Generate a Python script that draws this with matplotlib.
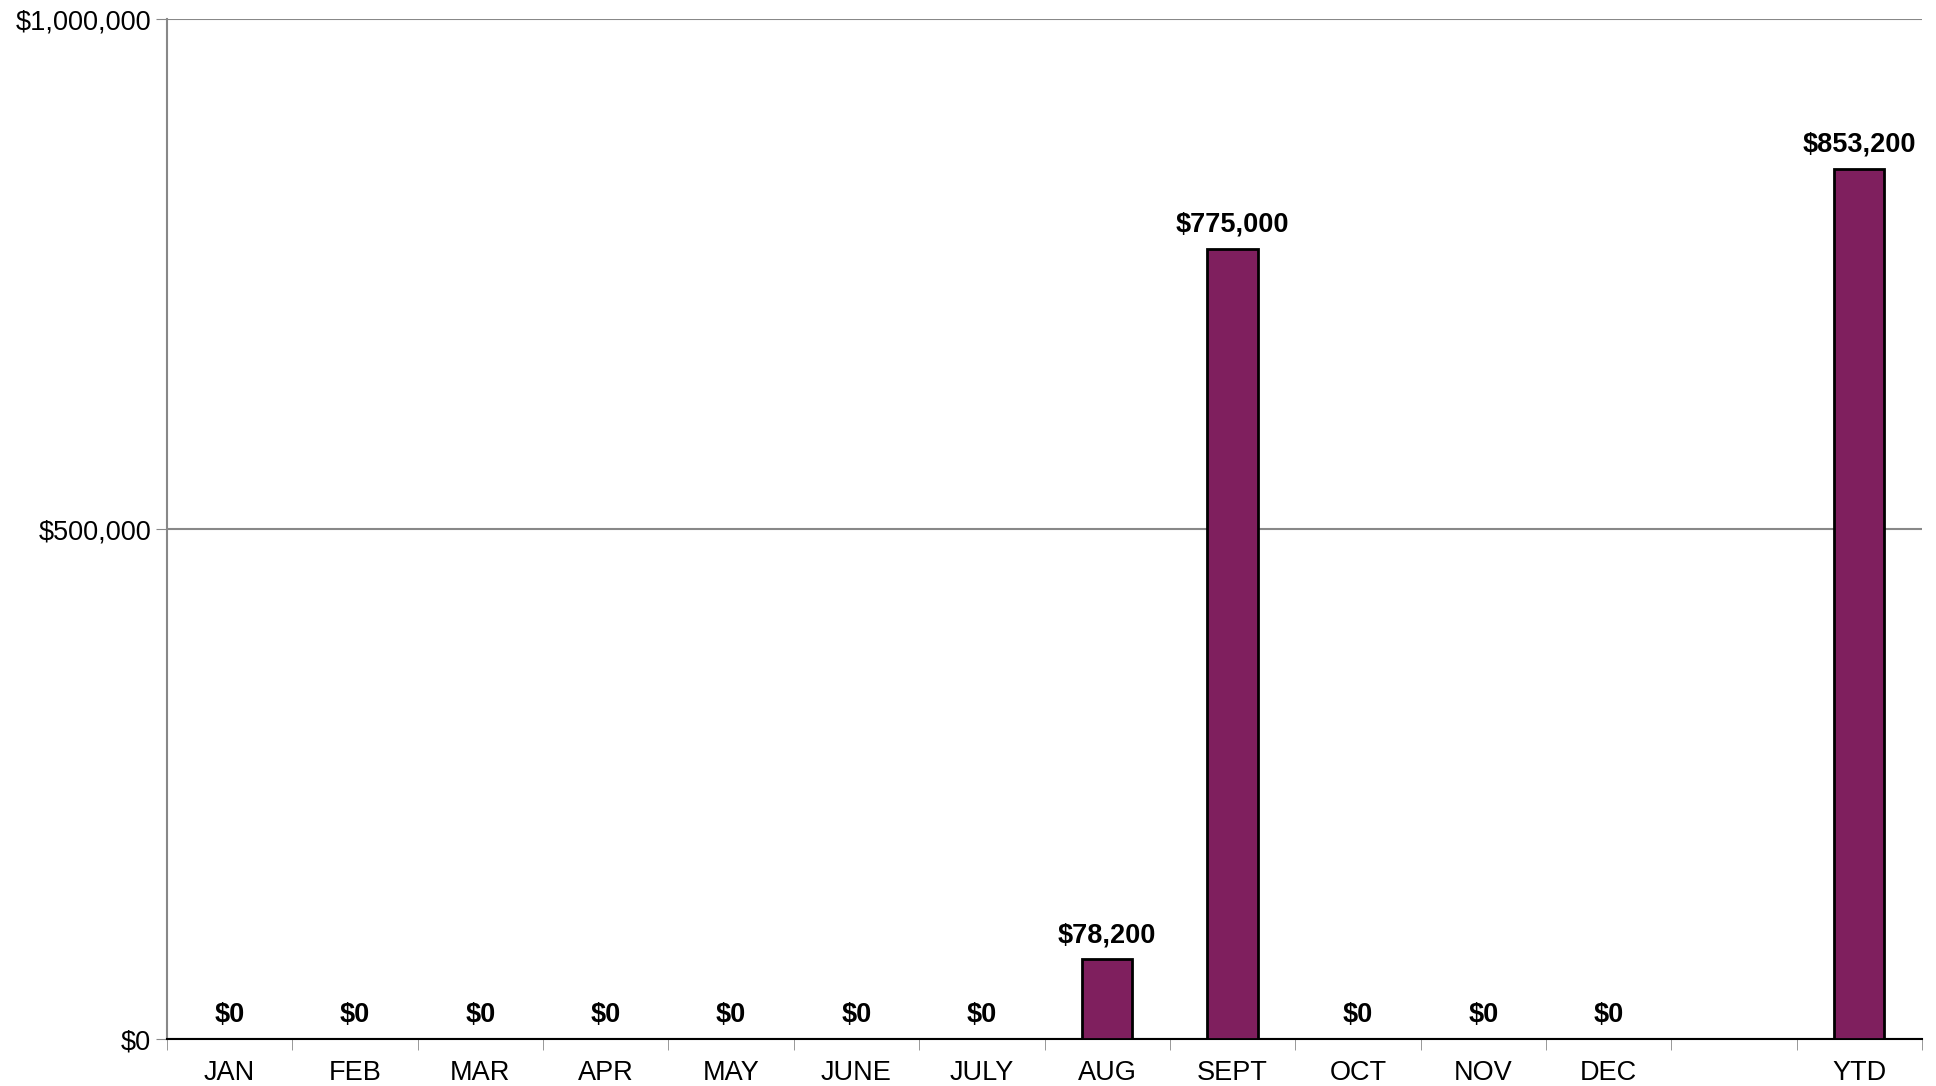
import matplotlib.pyplot as plt
import numpy as np

plt.rcParams['font.family'] = ['Liberation Sans', 'DejaVu Sans']

categories = ['JAN', 'FEB', 'MAR', 'APR', 'MAY', 'JUNE', 'JULY', 'AUG', 'SEPT',
              'OCT', 'NOV', 'DEC', '', 'YTD']
values = [0, 0, 0, 0, 0, 0, 0, 78200, 775000, 0, 0, 0, None, 853200]

fig = plt.figure(figsize=(19.36, 10.86), dpi=100)
ax = fig.add_axes([167 / 1936, 1 - 1039 / 1086, (1922 - 167) / 1936, (1039 - 19) / 1086])

x = np.arange(len(categories))
for xi, v in zip(x, values):
    if v is None:
        continue
    if v > 0:
        ax.bar(xi, v, width=0.4, color='#7f1f5e', edgecolor='black', linewidth=2, zorder=3)
    ax.text(xi, v + 11000, f'${v:,.0f}', ha='center', va='bottom',
            fontsize=19.5, fontweight='bold', zorder=4)

ax.set_xlim(-0.5, len(categories) - 0.5)
ax.set_ylim(0, 1000000)
ax.set_yticks([0, 500000, 1000000])
ax.set_yticklabels(['$0', '$500,000', '$1,000,000'], fontsize=19.5)
ax.yaxis.grid(True, color='#888888', linewidth=1.5, zorder=0)

ax.set_xticks(x)
ax.set_xticklabels(categories, fontsize=19.5)
ax.set_xticks(np.arange(len(categories) + 1) - 0.5, minor=True)
ax.tick_params(axis='x', which='major', length=0, pad=15)
ax.tick_params(axis='x', which='minor', length=8, color='#888888')
ax.tick_params(axis='y', length=8, color='#888888')

for s in ['top', 'right']:
    ax.spines[s].set_visible(False)
ax.spines['left'].set_color('#888888')
ax.spines['left'].set_linewidth(1.5)
ax.spines['bottom'].set_linewidth(1.5)

fig.savefig('out.png', dpi=100)
